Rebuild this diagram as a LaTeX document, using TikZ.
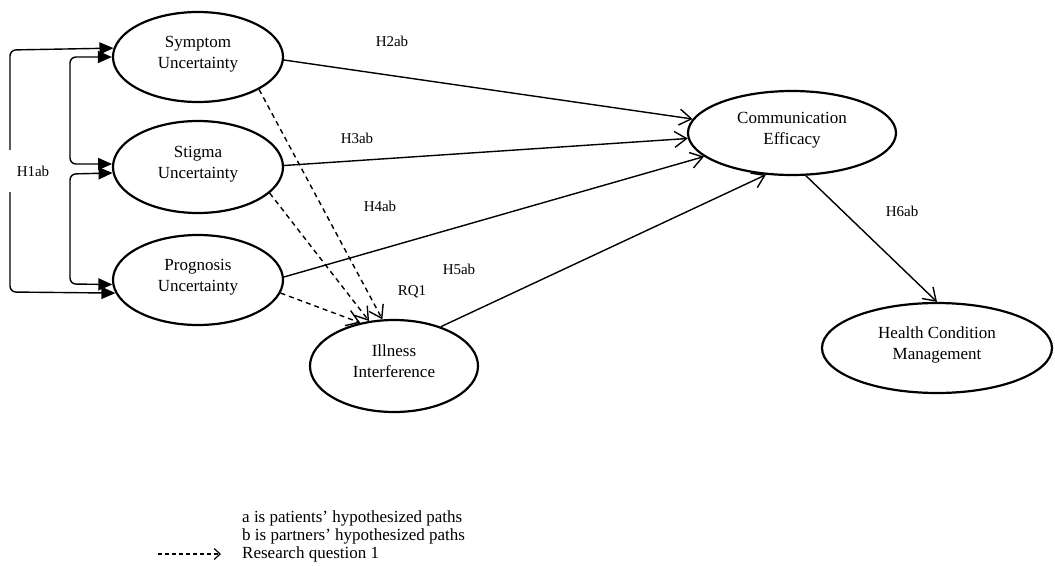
\documentclass[tikz,border=0pt]{standalone}
\usepackage{fontspec}
\setmainfont{Liberation Serif}
\usetikzlibrary{arrows.meta,shapes.geometric}
\begin{document}
\begin{tikzpicture}[x=1pt,y=-1pt,
  var/.style={ellipse,draw,line width=2.2pt,inner sep=0pt,align=center,text depth=10pt,font=\fontsize{17}{21}\selectfont},
  lbl/.style={font=\fontsize{15}{18}\selectfont,inner sep=0pt},
  legtext/.style={font=\fontsize{17}{21}\selectfont,inner sep=0pt,anchor=base west},
  hyp/.style={line width=1.4pt,-{Straight Barb[length=12pt,width=16pt]}},
  rq/.style={hyp,dash pattern=on 5pt off 4pt},
  corr/.style={line width=1.4pt,rounded corners=6pt,{Triangle[length=14pt,width=12pt]}-{Triangle[length=14pt,width=12pt]}}
]
\useasboundingbox (0,0) rectangle (1055,565);
% variables
\node[var,minimum width=170pt,minimum height=90pt] (sym) at (198,57) {Symptom\\Uncertainty};
\node[var,minimum width=170pt,minimum height=92pt] (stig) at (198,167) {Stigma\\Uncertainty};
\node[var,minimum width=170pt,minimum height=90pt] (prog) at (198,280) {Prognosis\\Uncertainty};
\node[var,minimum width=168pt,minimum height=92pt] (ill) at (394,366) {Illness\\Interference};
\node[var,minimum width=208pt,minimum height=84pt] (comm) at (792,133) {Communication\\Efficacy};
\node[var,minimum width=230pt,minimum height=90pt] (hcm) at (937,348) {Health Condition\\Management};
% correlations
\draw[corr] (sym.174) -- (10,50) -- (10,292) -- (prog.189);
\draw[corr] (sym.180) -- (70,57) -- (70,164) -- (stig.178);
\draw[corr] (stig.184) -- (70,174) -- (70,284) -- (prog.183);
\node[lbl,fill=white,minimum width=50pt,minimum height=42pt] (h1) at (33,171) {H1ab};
% hypothesized paths
\draw[hyp] (sym.-2) -- (comm.172);
\draw[hyp] (stig.1) -- (comm.183);
\draw[hyp] (prog.2) -- (comm.195);
\draw[hyp] (ill.40) -- (comm.238);
\draw[hyp] (comm.-72) -- (hcm.north);
% research question
\draw[rq] (sym.-28) -- (ill.104);
\draw[rq] (stig.-20) -- (ill.119);
\draw[rq] (prog.-9) -- (ill.128);
% labels
\node[lbl] (h2) at (392,41) {H2ab};
\node[lbl] (h3) at (357,138) {H3ab};
\node[lbl] (h4) at (380,206) {H4ab};
\node[lbl] (h5) at (459,269) {H5ab};
\node[lbl] (rq1) at (412,292) {RQ1};
\node[lbl] (h6) at (902,211) {H6ab};
% legend
\node[legtext] (la) at (242,522) {a is patients’ hypothesized paths};
\node[legtext] (lb) at (242,540) {b is partners’ hypothesized paths};
\node[legtext] (lc) at (242,558) {Research question 1};
\coordinate (lgs) at (158,554);
\coordinate (lge) at (221,554);
\draw[line width=1.2pt,dash pattern=on 4pt off 3pt,-{Straight Barb[length=6pt,width=11pt]}] (lgs) -- (lge);
\end{tikzpicture}
\end{document}
